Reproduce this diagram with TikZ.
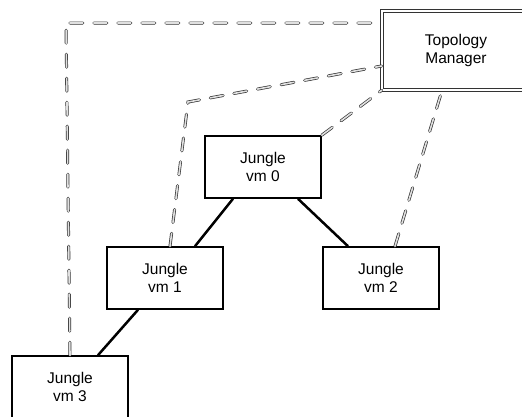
\documentclass[tikz,border=0pt]{standalone}
\usepackage{fontspec}
\setmainfont{Liberation Sans}
\begin{document}
\begin{tikzpicture}[x=1pt,y=-1pt,
  vmbox/.style={draw=black, line width=1.6pt, fill=white, minimum width=116pt, minimum height=62pt,
    inner sep=0pt, align=center, font=\fontsize{15.5}{17.5}\selectfont},
  tmbox/.style={draw=black!80, line width=0.8pt, double=white, double distance=2pt, fill=white,
    minimum width=148pt, minimum height=79pt, inner sep=0pt, align=center,
    font=\fontsize{15.5}{17.5}\selectfont},
  link/.style={line width=2.5pt, black},
  ctrl/.style={draw=black!80, line width=0.7pt, double=black!12, double distance=1.6pt,
    dash pattern=on 13pt off 11pt, line cap=round}
]
\useasboundingbox (0,0) rectangle (522,416);
\clip (0,0) rectangle (522,416);
\fill[white] (0,0) rectangle (522,416);

\coordinate (c1) at (66,23);
\coordinate (c2) at (188,102);

\node[tmbox] (tm) at (456,50.5) {Topology\\Manager};
\node[vmbox] (vm0) at (263,167) {Jungle\\vm 0};
\node[vmbox] (vm1) at (165,278) {Jungle\\vm 1};
\node[vmbox] (vm2) at (381,278) {Jungle\\vm 2};
\node[vmbox] (vm3) at (70,387) {Jungle\\vm 3};

\draw[ctrl] (vm3.north) -- (c1) -- (tm.west |- c1);
\draw[ctrl] ([xshift=5pt]vm1.north) -- (c2) -- ([yshift=-15.5pt]tm.west);
\draw[ctrl] (vm0.north east) -- (tm.south west);
\draw[ctrl] ([xshift=14pt]vm2.north) -- ([xshift=-14pt]tm.south);

\draw[link] ([xshift=-30pt]vm0.south) -- ([xshift=30pt]vm1.north);
\draw[link] ([xshift=35pt]vm0.south) -- ([xshift=-33pt]vm2.north);
\draw[link] ([xshift=-27pt]vm1.south) -- ([xshift=28pt]vm3.north);
\end{tikzpicture}
\end{document}
